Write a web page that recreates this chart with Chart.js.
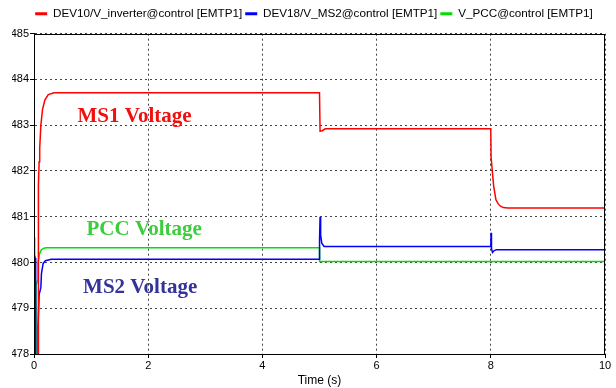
<!DOCTYPE html>
<html>
<head>
<meta charset="utf-8">
<script src="https://cdn.jsdelivr.net/npm/chart.js@4"></script>
<style>
  html, body { margin: 0; padding: 0; background: #fff; }
  #wrap { width: 616px; height: 388px; }
</style>
</head>
<body>
<div id="wrap"><canvas id="chart" width="616" height="388"></canvas></div>
<script>
// Series data (time in s, voltage)
const seriesNames = ['DEV10/V_inverter@control [EMTP1]', 'DEV18/V_MS2@control [EMTP1]', 'V_PCC@control [EMTP1]'];

const ms1Time = [0, 0.074, 0.075, 0.08, 0.09, 0.1, 0.12, 0.15, 0.19, 0.25, 0.35, 5.0, 5.01, 5.05, 5.1, 8.0, 8.005, 8.03, 8.05, 8.09, 8.13, 8.17, 8.22, 8.3, 10];
const ms1Volt = [477.5, 477.5, 481.6, 481.7, 482.2, 482.5, 483.0, 483.35, 483.55, 483.67, 483.71, 483.71, 482.87, 482.88, 482.92, 482.92, 482.3, 481.95, 481.67, 481.37, 481.28, 481.23, 481.2, 481.19, 481.19];

const ms2Time = [0, 0.002, 0.004, 0.012, 0.016, 0.02, 0.03, 0.06, 0.07, 0.09, 0.12, 0.13, 0.16, 0.2, 0.3, 5.0, 5.001, 5.01, 5.02, 5.04, 5.08, 8.0, 8.005, 8.012, 8.03, 8.06, 8.1, 10];
const ms2Volt = [477.5, 480.55, 480.5, 477.5, 480.17, 480.1, 477.5, 477.5, 478.6, 479.3, 479.45, 479.75, 479.98, 480.04, 480.07, 480.07, 480.52, 481.0, 480.6, 480.42, 480.35, 480.35, 480.65, 480.3, 480.22, 480.26, 480.28, 480.28];

const pccTime = [0, 0.03, 0.035, 0.06, 0.07, 0.1, 0.13, 0.17, 0.22, 5.0, 5.001, 10];
const pccVolt = [477.5, 477.5, 479.5, 479.6, 480.0, 480.2, 480.28, 480.31, 480.32, 480.32, 480.02, 480.02];

const xTicks = [0, 2, 4, 6, 8, 10];
const yTicks = [478, 479, 480, 481, 482, 483, 484, 485];

// text labels inside the plot, anchored in data units
const noteText = ['MS1 Voltage', 'PCC Voltage', 'MS2 Voltage'];
const noteTime = [0.76, 0.92, 0.86];
const noteVolt = [483.08, 480.60, 479.34];
const noteColor = ['#f01010', '#3ccc3c', '#333399'];

function toPoints(ts, vs) { return ts.map((t, i) => ({ x: t, y: vs[i] })); }

const frame = {
  id: 'frame',
  afterDatasetsDraw(chart) {
    const { ctx, chartArea: a, scales } = chart;
    ctx.save();
    ctx.strokeStyle = '#000';
    ctx.lineWidth = 1;
    ctx.strokeRect(Math.round(a.left) + 0.5, Math.round(a.top) + 0.5, Math.round(a.right - a.left) - 1, Math.round(a.bottom - a.top));
    ctx.font = 'bold 21px "Liberation Serif"';
    ctx.textBaseline = 'alphabetic';
    noteText.forEach((txt, i) => {
      ctx.fillStyle = noteColor[i];
      ctx.fillText(txt, scales.x.getPixelForValue(noteTime[i]), scales.y.getPixelForValue(noteVolt[i]));
    });
    ctx.restore();
  }
};

const colors = ['#ff0000', '#0000ff', '#00e000'];
const gridStyle = { color: '#444', tickLength: 4, tickColor: '#000', tickBorderDash: [] };
const borderStyle = { display: true, color: '#000', dash: [2, 3] };

new Chart(document.getElementById('chart'), {
  type: 'line',
  data: {
    datasets: [
      { label: seriesNames[0], data: toPoints(ms1Time, ms1Volt) },
      { label: seriesNames[1], data: toPoints(ms2Time, ms2Volt) },
      { label: seriesNames[2], data: toPoints(pccTime, pccVolt) }
    ].map((d, i) => Object.assign(d, {
      borderColor: colors[i], backgroundColor: colors[i],
      borderWidth: 1.5, pointRadius: 0, tension: 0, fill: false
    }))
  },
  options: {
    responsive: false,
    animation: false,
    layout: { padding: { top: 5, right: 0, left: 12, bottom: 0 } },
    plugins: {
      tooltip: { enabled: false },
      legend: {
        labels: {
          boxWidth: 12, boxHeight: 3, padding: 3,
          color: '#000',
          font: { family: 'Liberation Sans', size: 11.7 },
          generateLabels(chart) {
            return chart.data.datasets.map((d, i) => ({
              text: d.label, fillStyle: d.borderColor, strokeStyle: d.borderColor,
              lineWidth: 0, datasetIndex: i, fontColor: '#000'
            }));
          }
        }
      }
    },
    scales: {
      x: {
        type: 'linear', min: 0, max: 10,
        afterBuildTicks(s) { s.ticks = xTicks.map(v => ({ value: v })); },
        afterFit(s) { s.height = 34; },
        ticks: { color: '#000', font: { family: 'Liberation Sans', size: 11 }, padding: 1, maxRotation: 0 },
        grid: gridStyle,
        border: borderStyle,
        title: { display: true, text: 'Time (s)', color: '#000', font: { family: 'Liberation Sans', size: 12 }, padding: { top: 0, bottom: 0 } }
      },
      xTop: {
        type: 'linear', position: 'top', min: 0, max: 10,
        ticks: { display: false }, grid: { display: false, drawTicks: false },
        border: { display: false },
        afterFit(s) { s.height = 4; }
      },
      y: {
        min: 478, max: 485,
        afterBuildTicks(s) { s.ticks = yTicks.map(v => ({ value: v })); },
        afterFit(s) { s.width = 22; },
        ticks: { color: '#000', font: { family: 'Liberation Sans', size: 11 }, padding: 1 },
        grid: gridStyle,
        border: borderStyle
      },
      yRight: {
        type: 'linear', position: 'right', min: 478, max: 485,
        ticks: { display: false }, grid: { display: false, drawTicks: false },
        border: { display: false },
        afterFit(s) { s.width = 11; }
      }
    }
  },
  plugins: [frame]
});
</script>
</body>
</html>
